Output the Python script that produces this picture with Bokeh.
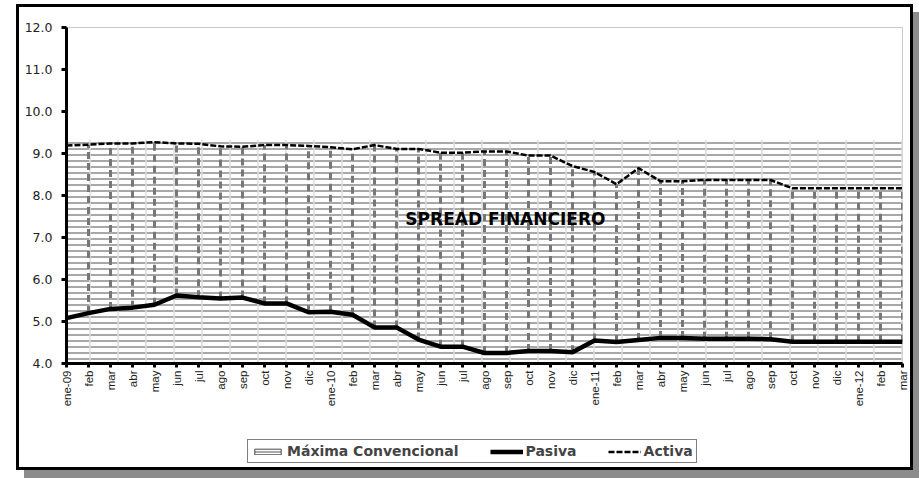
import math
from bokeh.plotting import figure
from bokeh.layouts import column
from bokeh.models import Range1d, FixedTicker, Legend, LegendItem, Label
from bokeh.embed import file_html
from bokeh.resources import INLINE

categories = ["ene-09", "feb", "mar", "abr", "may", "jun", "jul", "ago", "sep", "oct", "nov", "dic",
              "ene-10", "feb", "mar", "abr", "may", "jun", "jul", "ago", "sep", "oct", "nov", "dic",
              "ene-11", "feb", "mar", "abr", "may", "jun", "jul", "ago", "sep", "oct", "nov", "dic",
              "ene-12", "feb", "mar"]

activa = [9.19, 9.21, 9.24, 9.24, 9.27, 9.24, 9.23, 9.17, 9.16, 9.20, 9.20, 9.18,
          9.15, 9.10, 9.20, 9.11, 9.11, 9.02, 9.02, 9.05, 9.05, 8.95, 8.95, 8.70,
          8.56, 8.27, 8.65, 8.34, 8.34, 8.37, 8.37, 8.37, 8.37, 8.17, 8.17, 8.17,
          8.17, 8.17, 8.17]

pasiva = [5.08, 5.20, 5.30, 5.33, 5.40, 5.62, 5.58, 5.55, 5.57, 5.43, 5.43, 5.22,
          5.23, 5.16, 4.86, 4.86, 4.57, 4.40, 4.40, 4.25, 4.25, 4.30, 4.30, 4.27,
          4.55, 4.51, 4.56, 4.61, 4.61, 4.59, 4.59, 4.59, 4.58, 4.52, 4.52, 4.52,
          4.52, 4.52, 4.52]

maxima = [9.33] * len(categories)

y_ticks = [4, 5, 6, 7, 8, 9, 10, 11, 12]

series_names = ["Máxima Convencional", "Pasiva", "Activa"]

x = list(range(len(categories)))
base = [4.0] * len(categories)

FONT = "Liberation Sans"
WIDE = "DejaVu Sans"

HATCH = dict(hatch_pattern="horizontal_line", hatch_color="#a8a8a8", hatch_weight=2, hatch_scale=6)
PAS = dict(line_color="black", line_width=4.5)
ACT = dict(line_color="black", line_width=2.5, line_dash="6 2")

p = figure(width=891, height=432, output_backend="svg", toolbar_location=None,
           x_range=Range1d(0, len(categories) - 1), y_range=Range1d(4, 12),
           min_border_left=47, min_border_right=8, min_border_top=20, min_border_bottom=76)

p.xgrid.visible = False
p.ygrid.visible = False
p.outline_line_color = "#c8c8c8"
p.outline_line_width = 1

# hatched area (Máxima Convencional)
p.varea(x=x, y1=base, y2=maxima, fill_color="white", **HATCH)
p.varea(x=x, y1=base, y2=maxima, fill_alpha=0, hatch_pattern="vertical_line",
        hatch_color="#dcdcdc", hatch_weight=1.5, hatch_scale=28)

# high-low lines
p.segment(x0=x, y0=pasiva, x1=x, y1=activa, line_color="#777777", line_width=3, line_dash="7 4")

p.line(x=x, y=activa, **ACT)
p.line(x=x, y=pasiva, **PAS)

p.add_layout(Label(x=19.95, y=7.43, text="SPREAD FINANCIERO", text_font=WIDE, text_font_size="17px",
                   text_font_style="bold", text_align="center", text_baseline="middle",
                   text_color="black"))

# axes
p.yaxis.ticker = FixedTicker(ticks=y_ticks)
p.yaxis.major_label_overrides = {t: f"{t:.1f}" for t in y_ticks}
p.yaxis.axis_line_width = 3
p.yaxis.major_tick_line_width = 3
p.yaxis.major_tick_out = 5
p.yaxis.major_tick_in = 0
p.yaxis.minor_tick_line_color = None
p.yaxis.major_label_text_font = WIDE
p.yaxis.major_label_text_font_size = "12.5px"
p.yaxis.major_label_text_color = "#222222"
p.yaxis.major_label_standoff = 9

p.xaxis.ticker = FixedTicker(ticks=x)
p.xaxis.major_label_overrides = {i: c for i, c in enumerate(categories)}
p.xaxis.major_label_orientation = math.pi / 2
p.xaxis.axis_line_width = 3
p.xaxis.major_tick_line_width = 3
p.xaxis.major_tick_out = 4
p.xaxis.major_tick_in = 0
p.xaxis.minor_tick_line_color = None
p.xaxis.major_label_text_font = FONT
p.xaxis.major_label_text_font_size = "11.5px"
p.xaxis.major_label_text_color = "#222222"
p.xaxis.major_label_standoff = 3

# legend strip: a small plot whose view (0..1) lies outside the data, so its
# renderers only provide legend swatches
lg = figure(width=891, height=28, output_backend="svg", toolbar_location=None,
            x_range=Range1d(0, 1), y_range=Range1d(0, 1),
            min_border_left=0, min_border_right=0, min_border_top=0, min_border_bottom=0)
lg.axis.visible = False
lg.xgrid.visible = False
lg.ygrid.visible = False
lg.outline_line_color = None
r_max = lg.quad(left=x, right=x, top=maxima, bottom=base, fill_color="white",
                line_color="#444444", line_width=1, **HATCH)
r_pas = lg.line(x=x, y=pasiva, **PAS)
r_act = lg.line(x=x, y=activa, **ACT)

legend = Legend(items=[LegendItem(label=series_names[0], renderers=[r_max]),
                       LegendItem(label=series_names[1], renderers=[r_pas]),
                       LegendItem(label=series_names[2], renderers=[r_act])],
                orientation="horizontal", location=(181, 4))
legend.label_text_font = WIDE
legend.label_text_font_style = "bold"
legend.label_text_font_size = "14px"
legend.glyph_width = 33
legend.glyph_height = 7
legend.label_standoff = 3
legend.spacing = 31
legend.padding = 3
legend.margin = 0
legend.border_line_color = "black"
legend.border_line_width = 1
legend.background_fill_color = "white"
legend.background_fill_alpha = 1
lg.add_layout(legend, "center")

layout = column(p, lg, spacing=0, margin=(4, 0, 0, 16))
layout.styles = {"border": "3px solid black", "box-shadow": "8px 8px 0 #8c8c8c",
                 "background-color": "white"}

open("out.html", "w").write(file_html(layout, INLINE))
